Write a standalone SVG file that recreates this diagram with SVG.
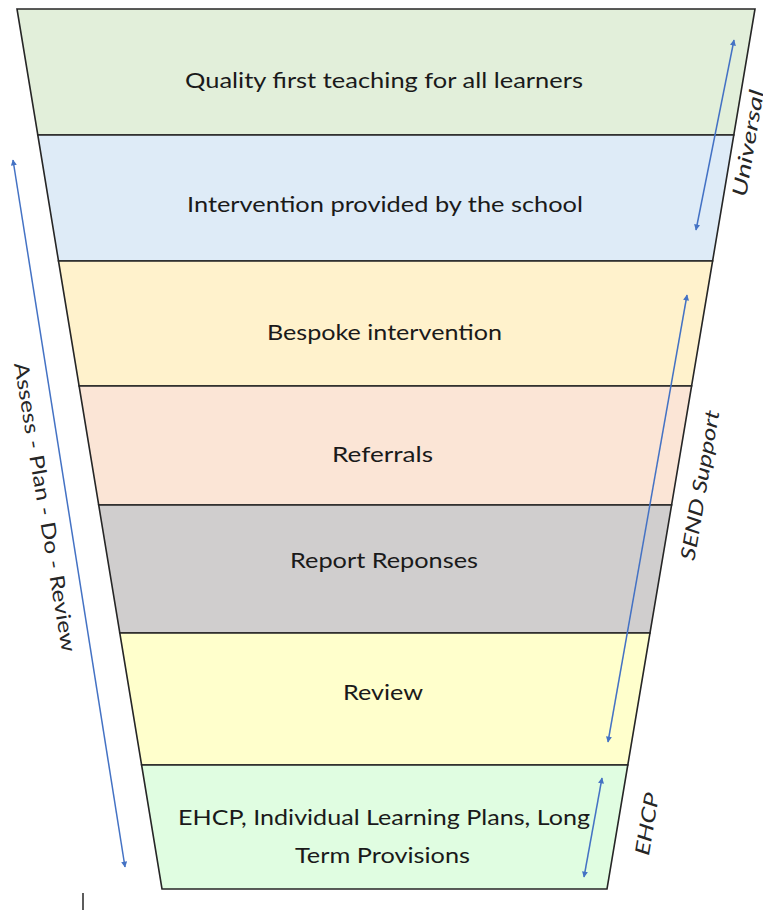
<svg xmlns="http://www.w3.org/2000/svg" width="763" height="911" viewBox="0 0 763 911">
  <defs>
    <style>
      .band { stroke: #262626; stroke-width: 1.6; stroke-linejoin: miter; }
      .lbl { font-family: Lato, "Open Sans", "Liberation Sans", sans-serif; font-size: 22px; fill: #1a1a1a; text-anchor: middle; }
      .side { font-family: Lato, "Open Sans", "Liberation Sans", sans-serif; font-size: 20px; font-style: italic; fill: #262626; text-anchor: middle; dominant-baseline: central; }
      .arrow { stroke: #4472C4; stroke-width: 1.5; fill: none; marker-start: url(#head); marker-end: url(#head); }
    </style>
    <marker id="head" viewBox="0 0 10 10" refX="9" refY="5" markerWidth="7" markerHeight="6" markerUnits="userSpaceOnUse" orient="auto-start-reverse">
      <path d="M0,0 L10,5 L0,10 z" fill="#4472C4"/>
    </marker>
  </defs>

  <rect width="763" height="911" fill="#ffffff"/>

  <!-- funnel tiers, widest at the top -->
  <g id="tier-quality-first">
    <polygon class="band" fill="#E2EFDA" points="17,9 755,9 733.8,135 37.8,135"/>
    <text class="lbl" x="384" y="88" textLength="398" lengthAdjust="spacingAndGlyphs">Quality first teaching for all learners</text>
  </g>
  <g id="tier-school-intervention">
    <polygon class="band" fill="#DEEBF7" points="37.8,135 733.8,135 712.6,261 58.5,261"/>
    <text class="lbl" x="385" y="212" textLength="396" lengthAdjust="spacingAndGlyphs">Intervention provided by the school</text>
  </g>
  <g id="tier-bespoke">
    <polygon class="band" fill="#FFF2CC" points="58.5,261 712.6,261 691.6,386 79.1,386"/>
    <text class="lbl" x="384.5" y="340" textLength="235" lengthAdjust="spacingAndGlyphs">Bespoke intervention</text>
  </g>
  <g id="tier-referrals">
    <polygon class="band" fill="#FBE5D6" points="79.1,386 691.6,386 671.6,505 98.7,505"/>
    <text class="lbl" x="382.5" y="462" textLength="101" lengthAdjust="spacingAndGlyphs">Referrals</text>
  </g>
  <g id="tier-report">
    <polygon class="band" fill="#D0CECE" points="98.7,505 671.6,505 650,633 119.8,633"/>
    <text class="lbl" x="384" y="568" textLength="188" lengthAdjust="spacingAndGlyphs">Report Reponses</text>
  </g>
  <g id="tier-review">
    <polygon class="band" fill="#FFFFCC" points="119.8,633 650,633 627.8,765 141.6,765"/>
    <text class="lbl" x="383" y="700" textLength="80" lengthAdjust="spacingAndGlyphs">Review</text>
  </g>
  <g id="tier-ehcp">
    <polygon class="band" fill="#E0FDE1" points="141.6,765 627.8,765 607,889 162,889"/>
    <text class="lbl" x="384" y="825" textLength="412" lengthAdjust="spacingAndGlyphs">EHCP, Individual Learning Plans, Long</text>
    <text class="lbl" x="382.5" y="863" textLength="175" lengthAdjust="spacingAndGlyphs">Term Provisions</text>
  </g>

  <!-- range arrows -->
  <g id="connectors">
    <line class="arrow" x1="13" y1="160" x2="125" y2="867"/>
    <line class="arrow" x1="734" y1="40" x2="696" y2="230"/>
    <line class="arrow" x1="687" y1="295" x2="608" y2="742"/>
    <line class="arrow" x1="602" y1="778" x2="584" y2="877"/>
  </g>

  <!-- side labels -->
  <g id="label-assess">
    <text class="side" style="font-style:normal" transform="translate(46,507) rotate(80.5)" textLength="293" lengthAdjust="spacingAndGlyphs">Assess - Plan - Do - Review</text>
  </g>
  <g id="label-universal">
    <text class="side" transform="translate(747,143) rotate(-80.5)" textLength="108" lengthAdjust="spacingAndGlyphs">Universal</text>
  </g>
  <g id="label-send">
    <text class="side" transform="translate(699,485) rotate(-80.5)" textLength="152" lengthAdjust="spacingAndGlyphs">SEND Support</text>
  </g>
  <g id="label-ehcp">
    <text class="side" transform="translate(646,824) rotate(-80.5)" textLength="63" lengthAdjust="spacingAndGlyphs">EHCP</text>
  </g>

  <line x1="83" y1="893" x2="83" y2="910" stroke="#262626" stroke-width="1.5"/>
</svg>
